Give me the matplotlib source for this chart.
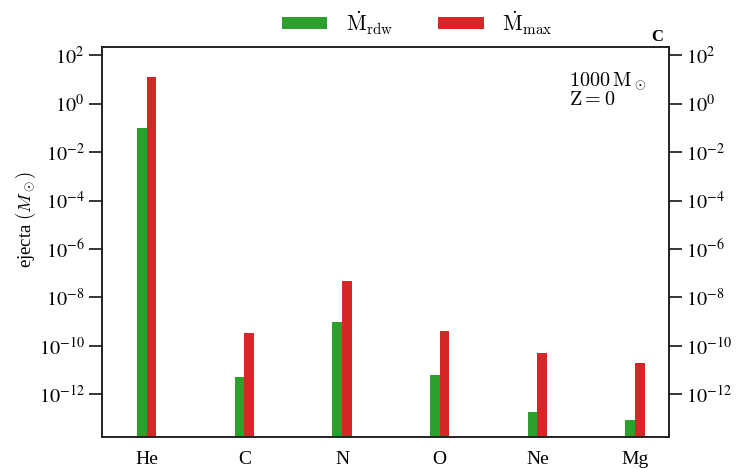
import numpy as np
import matplotlib
matplotlib.use("Agg")
import matplotlib.pyplot as plt

# ==========================================
# Data
# ==========================================

elements = ["He", "C", "N", "O", "Ne", "Mg"]

ejecta_rdw = [1.0e-1, 5.4e-12, 9.5e-10, 6.2e-12, 1.9e-13, 8.7e-14]
ejecta_max = [12.0, 3.3e-10, 4.9e-8, 4.3e-10, 4.9e-11, 1.9e-11]

ytick_exponents = [2, 0, -2, -4, -6, -8, -10, -12]

# ==========================================
# Style
# ==========================================

plt.rcParams["font.family"] = ["Liberation Serif", "DejaVu Serif"]
plt.rcParams["mathtext.fontset"] = "cm"

green = "#2ca02c"
red = "#d62728"
width = 0.1

# ==========================================
# Figure
# ==========================================

fig = plt.figure(figsize=(7.37, 4.69), dpi=100)
ax = fig.add_axes([0.1384, 0.0676, 0.7693, 0.8314])

x = np.arange(len(elements))

ax.bar(x - width / 2, ejecta_rdw, width=width, color=green,
       label=r"$\dot{\rm M}_{\rm rdw}$")
ax.bar(x + width / 2, ejecta_max, width=width, color=red,
       label=r"$\dot{\rm M}_{\rm max}$")

ax.set_yscale("log")
ax.set_ylim(10 ** -13.77, 10 ** 2.32)
ax.set_xlim(-0.457, 5.348)

ax.set_xticks(x)
ax.set_xticklabels(elements, fontsize=14)
ax.tick_params(axis="x", length=0, pad=10)

yticks = [10.0 ** e for e in ytick_exponents]
ylabels = [r"$10^{%d}$" % e for e in ytick_exponents]
ax.set_yticks(yticks)
ax.set_yticklabels(ylabels)
ax.yaxis.set_minor_locator(matplotlib.ticker.NullLocator())
ax.tick_params(axis="y", which="major", direction="out", length=9.5,
               width=1.1, pad=3, labelsize=14.5, left=True, right=True,
               labelleft=True, labelright=True)
for lab in ax.get_yticklabels(which="both"):
    lab.set_math_fontfamily("stix")

for side in ["left", "right", "top", "bottom"]:
    ax.spines[side].set_linewidth(1.4)
    ax.spines[side].set_color("#222222")

ax.set_ylabel(r"ejecta $(M_\odot)$", fontsize=13.5)
ax.yaxis.set_label_coords(-0.113, 0.56)

ax.text(0.823, 0.94, r"$1000\,{\rm M}_\odot$" + "\n" + r"${\rm Z} = 0$",
        transform=ax.transAxes, ha="left", va="top", fontsize=14.5,
        linespacing=0.9)

ax.text(0.98, 1.027, "C", transform=ax.transAxes, ha="center",
        va="center", fontsize=12, fontweight="bold")

ax.legend(loc="lower center", bbox_to_anchor=(0.556, 1.0), ncol=2,
          frameon=False, fontsize=15.5, handlelength=2.1, handleheight=0.5,
          columnspacing=2.1, handletextpad=0.85, borderaxespad=0.1)

fig.savefig("out.png", dpi=100)
